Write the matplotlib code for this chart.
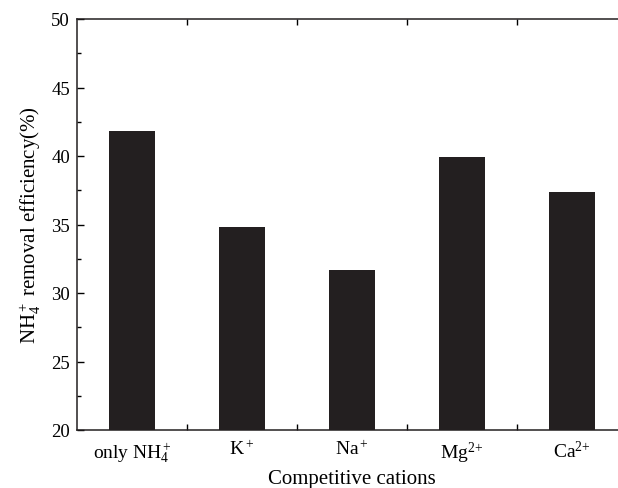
import matplotlib
matplotlib.use("Agg")
import matplotlib.pyplot as plt
from matplotlib.ticker import MultipleLocator, FixedLocator, NullFormatter

plt.rcParams['font.family'] = ['Liberation Serif', 'DejaVu Serif']
plt.rcParams['mathtext.fontset'] = 'custom'
plt.rcParams['mathtext.rm'] = 'Liberation Serif'
plt.rcParams['mathtext.it'] = 'Liberation Serif:italic'

# removal efficiency with competing cations
cations = [r'only NH$_4^+$', r'K$^+$', r'Na$^+$', r'Mg$^{2{+}}$', r'Ca$^{2{+}}$']
efficiency = [41.8, 34.85, 31.7, 39.9, 37.35]

fig = plt.figure(figsize=(6.18, 4.89), dpi=100)
ax = fig.add_axes([77 / 618, 58 / 489, 550 / 618, 411 / 489])

pos = list(range(1, len(cations) + 1))
ax.bar(pos, efficiency, width=0.41, color='#231f20', zorder=2)

ax.set_xlim(0.5, len(cations) + 0.5)
ax.set_ylim(20, 50)

ax.set_xticks(pos)
ax.set_xticklabels(cations, fontsize=14)
ax.xaxis.set_minor_locator(FixedLocator([p + 0.5 for p in pos[:-1]]))
ax.xaxis.set_minor_formatter(NullFormatter())
ax.tick_params(axis='x', which='major', length=0, pad=7)
ax.tick_params(axis='x', which='minor', direction='in', length=4, width=1,
               top=True, bottom=True)

ax.yaxis.set_major_locator(MultipleLocator(5))
ax.yaxis.set_minor_locator(MultipleLocator(2.5))
ax.tick_params(axis='y', which='major', direction='in', length=5, width=1,
               labelsize=13.5, pad=5)
ax.tick_params(axis='y', which='minor', direction='in', length=3, width=1)

for side in ['left', 'bottom', 'top', 'right']:
    ax.spines[side].set_linewidth(1.1)
    ax.spines[side].set_color('#231f20')

ax.set_xlabel('Competitive cations', fontsize=15, labelpad=3)
ax.set_ylabel(r'NH$_4^+$ removal efficiency(%)', fontsize=15, labelpad=6)

fig.savefig('out.png', dpi=100)
